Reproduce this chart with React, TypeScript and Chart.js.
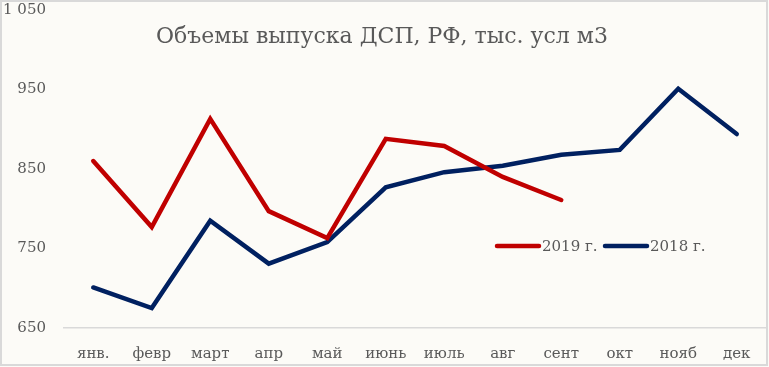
import React, { useEffect, useRef } from "react";
import { Chart, registerables } from "chart.js";

Chart.register(...registerables);

const months = ["янв.", "февр", "март", "апр", "май", "июнь", "июль", "авг", "сент", "окт", "нояб", "дек"];
const series2019 = [860, 777, 913, 797, 763, 888, 879, 840, 811, null, null, null];
const series2018 = [701, 675, 785, 731, 758, 827, 846, 854, 868, 874, 951, 894];
const seriesNames = ["2019 г.", "2018 г."];
const seriesColors = ["#C00000", "#002060"];
const yMin = 650;
const yMax = 1050;
const yStep = 100;
const titleText = "Объемы выпуска ДСП, РФ, тыс. усл м3";

const FONT = "'DejaVu Serif', serif";
const TEXT_COLOR = "#595959";

const decorPlugin = {
  id: "decor",
  beforeDraw(chart: any) {
    const { ctx, width, height } = chart;
    ctx.save();
    ctx.fillStyle = "#FCFBF7";
    ctx.fillRect(0, 0, width, height);
    ctx.strokeStyle = "#D9D9D9";
    ctx.lineWidth = 2;
    ctx.strokeRect(1, 1, width - 3, height - 3);
    ctx.restore();
  },
  afterDraw(chart: any) {
    const { ctx } = chart;
    ctx.save();
    ctx.fillStyle = TEXT_COLOR;
    ctx.font = `22px ${FONT}`;
    ctx.textAlign = "center";
    ctx.textBaseline = "middle";
    ctx.fillText(titleText, 382, 37);
    ctx.font = `15px ${FONT}`;
    ctx.textAlign = "left";
    let x = 497;
    const y = 246;
    seriesNames.forEach((name, i) => {
      ctx.strokeStyle = seriesColors[i];
      ctx.lineWidth = 4.5;
      ctx.lineCap = "round";
      ctx.beginPath();
      ctx.moveTo(x, y);
      ctx.lineTo(x + 42, y);
      ctx.stroke();
      ctx.fillStyle = TEXT_COLOR;
      ctx.fillText(name, x + 45, y + 1);
      x += 108;
    });
    ctx.restore();
  },
};

export default function App() {
  const ref = useRef<HTMLCanvasElement>(null);
  useEffect(() => {
    document.body.style.margin = "0";
    const chart = new Chart(ref.current!, {
      type: "line",
      data: {
        labels: months,
        datasets: [
          {
            label: seriesNames[0],
            data: series2019,
            borderColor: seriesColors[0],
            backgroundColor: seriesColors[0],
            borderWidth: 4.5,
            pointRadius: 0,
            borderCapStyle: "round",
            borderJoinStyle: "miter",
            tension: 0,
            spanGaps: false,
          },
          {
            label: seriesNames[1],
            data: series2018,
            borderColor: seriesColors[1],
            backgroundColor: seriesColors[1],
            borderWidth: 4.5,
            pointRadius: 0,
            borderCapStyle: "round",
            borderJoinStyle: "miter",
            tension: 0,
          },
        ],
      },
      options: {
        animation: false,
        responsive: false,
        maintainAspectRatio: false,
        layout: { padding: { top: 10, right: 3, left: 0, bottom: 0 } },
        plugins: {
          legend: { display: false },
          title: { display: false },
          tooltip: { enabled: false },
        },
        scales: {
          x: {
            offset: true,
            grid: { display: false },
            border: { display: true, color: "#D9D9D9", width: 1.5 },
            ticks: {
              color: TEXT_COLOR,
              font: { family: FONT, size: 15 },
              padding: 9,
              maxRotation: 0,
              autoSkip: false,
            },
            afterFit(scale: any) {
              scale.height = 39;
              scale.paddingLeft = 0;
              scale.paddingRight = 0;
            },
          },
          y: {
            min: yMin,
            max: yMax,
            grid: { display: false },
            border: { display: false },
            ticks: {
              stepSize: yStep,
              color: TEXT_COLOR,
              font: { family: FONT, size: 15 },
              padding: 10,
              callback: (v: any) => {
                const n = Number(v);
                return n >= 1000 ? `${Math.floor(n / 1000)} ${String(n % 1000).padStart(3, "0")}` : String(n);
              },
            },
            afterFit(scale: any) {
              scale.width = 64;
              scale.paddingTop = 0;
              scale.paddingBottom = 0;
            },
          },
        },
      },
      plugins: [decorPlugin],
    });
    return () => chart.destroy();
  }, []);
  return <canvas ref={ref} width={769} height={367} style={{ display: "block" }} />;
}
